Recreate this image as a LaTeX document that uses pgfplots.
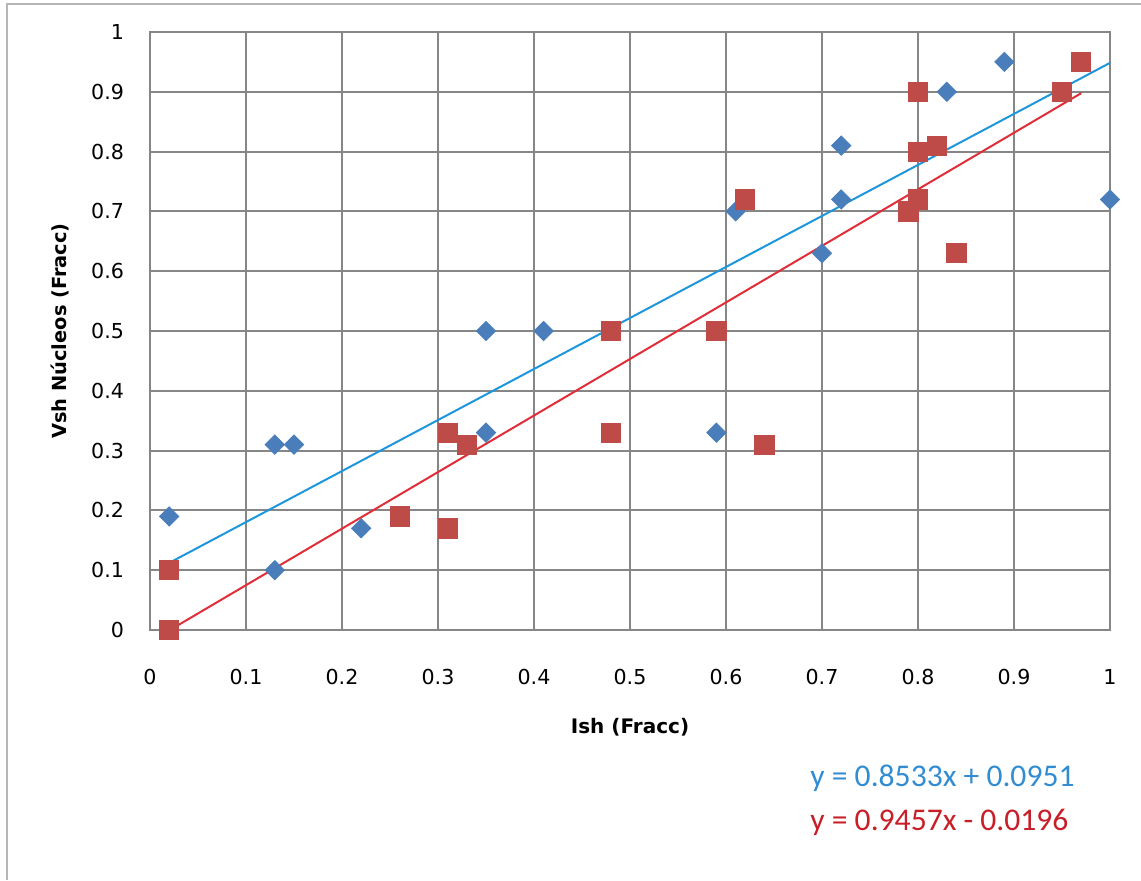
\documentclass[border=0pt]{standalone}
\usepackage{fontspec}
\setmainfont{DejaVu Sans}
\newfontfamily\carlito{Carlito}
\usepackage{pgfplots}
\pgfplotsset{compat=1.18}
\definecolor{gridgray}{RGB}{134,134,134}
\definecolor{mblue}{RGB}{74,126,187}
\definecolor{mred}{RGB}{190,75,72}
\definecolor{lblue}{RGB}{30,150,220}
\definecolor{lred}{RGB}{225,45,55}
\definecolor{tblue}{RGB}{50,140,210}
\definecolor{tred}{RGB}{200,30,40}
\begin{document}
\begin{tikzpicture}
\path[use as bounding box] (0pt,0pt) rectangle (570.5pt,440pt);
\draw[gridgray!60, line width=1pt] (3.5pt,0pt) -- (3.5pt,438pt) -- (570.5pt,438pt);
\begin{axis}[
  at={(75pt,125pt)}, anchor=south west,
  scale only axis, width=480pt, height=299pt,
  xmin=0, xmax=1, ymin=0, ymax=1,
  xtick={0,0.1,...,1.01}, ytick={0,0.1,...,1.01},
  xticklabels={0,0.1,0.2,0.3,0.4,0.5,0.6,0.7,0.8,0.9,1},
  yticklabels={0,0.1,0.2,0.3,0.4,0.5,0.6,0.7,0.8,0.9,1},
  major tick length=0pt,
  grid=major,
  major grid style={gridgray, line width=1pt},
  axis line style={gridgray, line width=1pt},
  tick label style={font=\fontsize{10.3}{12}\selectfont},
  xticklabel style={yshift=-16pt},
  yticklabel style={xshift=-9.5pt},
  xlabel={Ish (Fracc)},
  ylabel={Vsh Núcleos (Fracc)},
  xlabel style={at={(axis description cs:0.5,0)}, anchor=center, yshift=-48.5pt, font=\bfseries\fontsize{10}{12}\selectfont},
  ylabel style={at={(axis description cs:0,0.5)}, anchor=center, yshift=45pt, font=\bfseries\fontsize{9.7}{12}\selectfont},
  clip=false,
]
\addplot[only marks, mark=square*, mark size=3.4pt, mark options={rotate=45, fill=mblue, draw=mblue}] coordinates {
(0.02,0.19) (0.13,0.31) (0.15,0.31) (0.13,0.10) (0.22,0.17) (0.35,0.50) (0.35,0.33)
(0.41,0.50) (0.59,0.33) (0.61,0.70) (0.70,0.63) (0.72,0.81) (0.72,0.72) (0.83,0.90)
(0.89,0.95) (1.00,0.72)
};
\addplot[only marks, mark=square*, mark size=4.8pt, mark options={fill=mred, draw=mred}] coordinates {
(0.02,0.10) (0.02,0.00) (0.26,0.19) (0.31,0.17) (0.31,0.33) (0.33,0.31) (0.48,0.50)
(0.48,0.33) (0.59,0.50) (0.62,0.72) (0.64,0.31) (0.79,0.70) (0.80,0.72) (0.80,0.80)
(0.80,0.90) (0.82,0.81) (0.84,0.63) (0.95,0.90) (0.97,0.95)
};
\addplot[lblue, line width=1pt] coordinates {(0.02,0.1122) (1.00,0.9484)};
\addplot[lred, line width=1pt] coordinates {(0.02,-0.0007) (0.97,0.8977)};
\end{axis}
\node[anchor=west, inner sep=0pt, text=tblue, font=\carlito\fontsize{15.8}{18}\selectfont] at (405pt,51pt) {y = 0.8533x + 0.0951};
\node[anchor=west, inner sep=0pt, text=tred, font=\carlito\fontsize{15.8}{18}\selectfont] at (405pt,29pt) {y = 0.9457x - 0.0196};
\end{tikzpicture}
\end{document}
